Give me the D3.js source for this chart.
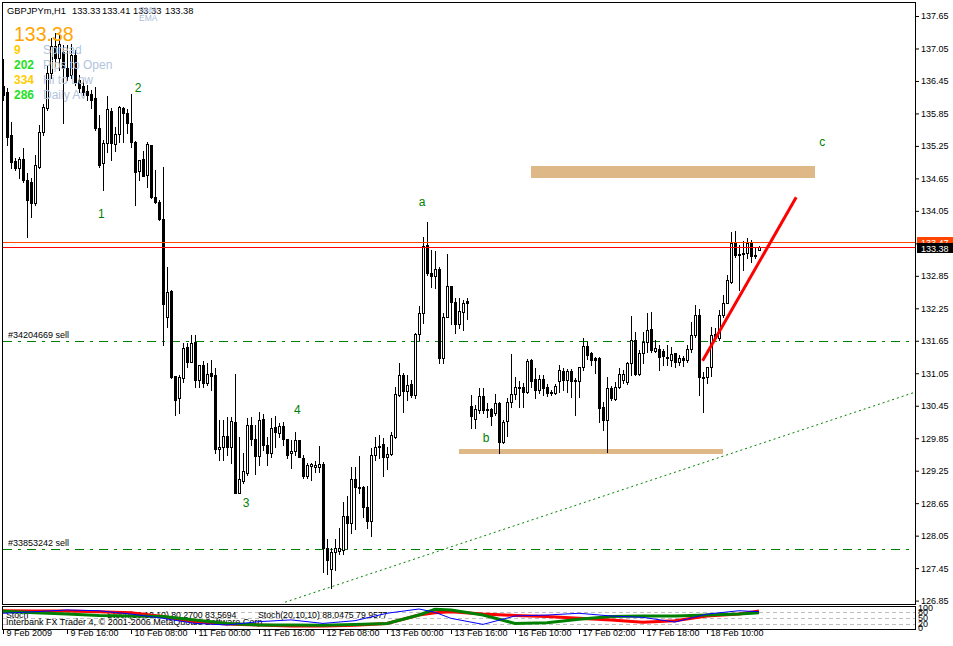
<!DOCTYPE html>
<html>
<head>
<meta charset="utf-8">
<script src="https://cdnjs.cloudflare.com/ajax/libs/d3/7.8.5/d3.min.js"></script>
<style>
body { margin: 0; background: #fff; }
svg text { font-family: "Liberation Sans", Arial, sans-serif; }
</style>
</head>
<body>
<div id="chart"></div>
<script>

// ---- data (GBPJPYm H1, 9 Feb - 18 Feb 2009) ----
var symbol = "GBPJPYm,H1";
var lastQuote = [133.33, 133.41, 133.33, 133.38];

var open = [
  136.36,136.25,135.45,134.97,134.84,135.01,134.62,134.58,134.19,134.86,
  135.51,135.95,136.60,137.10,136.87,136.98,136.69,136.56,136.93,136.47,
  136.36,136.26,136.21,136.13,135.58,134.93,135.30,135.89,135.28,135.47,
  135.95,135.86,135.67,135.32,134.79,135.01,134.71,135.27,134.31,134.21,
  133.90,132.09,132.57,131.00,130.59,130.96,131.53,131.25,131.62,130.92,
  131.20,130.87,131.05,131.01,129.65,129.68,129.89,129.68,130.15,128.83,
  129.06,129.20,130.09,129.83,129.52,130.20,129.72,129.57,130.05,129.94,
  130.07,129.83,129.57,129.61,129.81,129.48,129.15,129.33,129.31,129.31,
  129.37,127.82,127.43,127.74,127.76,127.78,128.41,128.28,129.09,128.94,
  128.94,128.57,128.32,129.54,129.68,129.74,129.50,129.55,129.87,130.65,
  131.01,130.72,130.85,130.65,131.77,132.16,133.42,132.90,132.84,132.97,
  131.33,132.09,132.66,132.36,131.96,132.18,132.38,130.44,130.20,130.37,
  130.63,130.39,130.39,130.31,130.50,129.78,130.16,130.52,130.66,130.79,
  130.79,130.70,131.29,130.94,130.74,130.94,130.79,130.70,130.68,130.90,
  131.09,130.92,131.09,130.92,130.90,131.16,131.55,131.42,131.33,131.33,
  130.42,130.18,130.77,130.57,130.79,130.92,130.89,131.24,131.66,131.03,
  131.42,131.62,131.87,131.46,131.50,131.46,131.35,131.29,131.42,131.25,
  131.33,131.29,131.50,131.75,132.12,130.98,130.98,131.16,131.77,131.70,
  132.12,132.35,132.73,133.45,133.25,133.25,133.27,133.45,133.23,133.33
];
var high = [
  136.86,136.32,135.69,135.03,135.04,135.21,134.75,134.66,135.08,135.64,
  136.02,136.73,137.24,137.34,137.30,137.11,137.11,137.13,137.02,136.56,
  136.47,136.37,136.28,136.34,135.82,135.36,136.17,135.95,135.60,135.99,
  135.97,135.93,136.21,135.34,134.99,135.16,135.32,135.27,134.80,134.25,
  134.86,133.01,132.59,131.00,131.01,131.61,131.61,131.75,131.75,131.20,
  131.27,131.24,131.29,131.14,130.18,130.18,130.24,130.24,131.03,129.87,
  129.57,130.22,130.24,130.09,130.33,130.29,129.87,130.22,130.26,130.13,
  130.15,129.83,129.81,129.96,129.81,129.54,129.39,129.39,129.42,129.70,
  129.41,127.98,127.82,127.98,128.20,128.67,128.78,129.31,129.31,129.52,
  128.96,128.96,129.67,129.87,129.91,129.85,129.68,129.96,130.79,131.24,
  131.05,131.01,130.92,131.79,132.29,133.57,133.84,133.33,133.31,133.01,
  132.16,133.25,132.66,132.44,132.44,132.40,132.44,130.65,130.46,130.77,
  130.77,130.50,130.40,130.66,130.52,130.18,130.59,131.40,130.98,130.90,
  130.87,131.31,131.31,131.14,131.01,131.01,130.85,130.74,130.85,131.20,
  131.14,131.13,131.13,130.96,131.16,131.70,131.62,131.44,131.35,131.35,
  130.52,130.98,130.81,130.89,131.14,131.11,131.25,132.11,131.81,131.48,
  131.81,132.16,132.18,131.66,131.57,131.50,131.57,131.53,131.42,131.38,
  131.37,131.57,131.99,132.31,132.23,131.07,131.16,131.90,131.88,132.22,
  132.49,132.86,133.66,133.68,133.42,133.49,133.55,133.51,133.36,133.41
];
var low = [
  136.10,135.27,134.84,134.80,134.66,134.58,133.57,133.94,134.16,134.84,
  135.45,135.91,136.50,136.73,136.65,135.67,136.47,136.50,136.37,136.25,
  136.19,136.10,135.95,135.54,134.86,134.43,135.14,134.99,135.16,135.32,
  135.32,135.49,135.23,134.16,134.62,134.69,134.49,134.29,134.19,133.88,
  131.57,131.90,130.96,130.28,130.31,130.89,131.16,131.25,130.79,130.79,
  130.79,130.83,130.74,129.57,129.44,129.44,129.54,129.39,128.83,128.83,
  129.02,129.17,129.72,129.18,129.35,129.63,129.35,129.50,129.68,129.87,
  129.72,129.48,129.30,129.54,129.50,129.11,129.11,129.07,129.22,129.22,
  127.37,127.35,127.08,127.41,127.72,127.72,127.83,128.09,128.17,128.83,
  128.39,128.19,128.04,129.44,129.48,129.15,129.28,129.54,129.85,130.63,
  130.33,130.55,130.61,130.59,131.66,131.98,132.86,132.64,132.62,131.24,
  131.24,132.09,131.96,131.79,131.88,131.85,132.05,130.04,130.04,130.31,
  130.31,130.24,130.09,130.28,129.57,129.76,129.89,130.42,130.57,130.42,
  130.42,130.68,130.79,130.59,130.68,130.65,130.63,130.65,130.66,130.70,
  130.74,130.70,130.61,130.28,130.61,131.11,131.31,131.20,131.05,130.15,
  130.00,129.59,130.55,130.55,130.77,130.87,130.85,131.01,131.01,131.01,
  131.24,131.44,131.44,131.44,131.11,131.20,131.20,131.18,131.16,131.20,
  131.18,131.25,131.44,131.72,130.65,130.33,130.87,131.00,131.70,131.66,
  132.09,132.35,132.71,133.20,132.59,132.96,133.18,133.10,133.18,133.33
];
var close = [
  136.19,135.41,134.95,134.84,135.01,134.62,134.25,134.19,134.90,135.51,
  135.97,136.60,137.10,136.87,137.13,136.69,136.54,136.93,136.43,136.32,
  136.25,136.19,136.10,135.58,134.90,135.30,135.93,135.30,135.47,135.97,
  135.86,135.67,135.32,134.77,134.99,134.69,135.28,134.31,134.21,133.90,
  132.33,132.55,130.98,130.55,130.98,131.51,131.25,131.61,130.92,131.20,
  130.87,131.03,131.00,129.65,129.68,129.89,129.68,130.16,128.83,129.09,
  129.24,130.09,129.83,129.52,130.18,129.72,129.57,130.04,129.96,130.07,
  129.83,129.54,129.61,129.81,129.50,129.15,129.35,129.37,129.35,129.37,
  127.82,127.60,127.74,127.82,127.82,128.41,128.28,129.09,128.94,128.93,
  128.57,128.32,129.54,129.68,129.70,129.50,129.55,129.91,130.66,131.01,
  130.72,130.83,130.65,131.77,132.16,133.40,132.90,132.84,132.97,131.33,
  132.09,132.66,132.36,131.96,132.20,132.35,132.35,130.26,130.39,130.63,
  130.37,130.37,130.26,130.50,129.78,130.15,130.52,130.66,130.79,130.77,
  130.70,131.27,130.90,130.74,130.94,130.77,130.68,130.68,130.81,131.11,
  130.92,131.09,130.90,130.90,131.16,131.55,131.38,131.29,131.29,130.40,
  130.18,130.77,130.59,130.79,131.03,131.03,131.24,131.66,131.03,131.42,
  131.62,131.85,131.48,131.51,131.35,131.37,131.33,131.40,131.25,131.33,
  131.29,131.50,131.75,132.12,130.98,130.96,131.16,131.75,131.70,132.12,
  132.35,132.77,133.45,133.23,133.23,133.27,133.45,133.21,133.21,133.38
];

var timeTicks = [0, 16, 32, 48, 64, 80, 96, 112, 128, 144, 160, 176];
var timeLabels = ["9 Feb 2009", "9 Feb 16:00", "10 Feb 08:00", "11 Feb 00:00",
  "11 Feb 16:00", "12 Feb 08:00", "13 Feb 00:00", "13 Feb 16:00",
  "16 Feb 10:00", "17 Feb 02:00", "17 Feb 18:00", "18 Feb 10:00"];
var priceTicks = [137.65, 137.05, 136.45, 135.85, 135.25, 134.65, 134.05,
  133.45, 132.85, 132.25, 131.65, 131.05, 130.45, 129.85, 129.25, 128.65,
  128.05, 127.45, 126.85];

var askPrice = 133.47;
var bidPrice = 133.38;

// pending orders
var orderPrices = [131.65, 127.80];
var orderNames = ["#34204669 sell", "#33853242 sell"];

// tan zones (bar index from/to, price low/high)
var zoneFrom = [132, 114];
var zoneTo = [203, 180];
var zoneLow = [134.66, 129.55];
var zoneHigh = [134.88, 129.65];

// trend lines [bar, price]
var supportLine = [[70.5, 126.82], [228, 130.70]];
var redLine = [[174.9, 131.28], [198.3, 134.30]];

// wave counts
var waveNames = ["1", "2", "3", "4", "a", "b", "c"];
var waveBars = [24.6, 33.8, 60.8, 73.6, 104.8, 120.8, 204.8];
var wavePrices = [133.99, 136.32, 128.65, 130.37, 134.21, 129.85, 135.32];

// info block, top left
var infoValues = ["9", "202", "334", "286"];
var infoNames = ["Spread", "Pips to Open", "Hi to Low", "Daily Av"];
var infoColors = ["#ffcc00", "#22e022", "#ffcc00", "#22e022"];

// stochastic window
var stochBars = [0, 8, 16, 24, 32, 40, 48, 56, 64, 72, 80, 88, 96, 104, 108, 112,
  120, 128, 136, 144, 152, 160, 168, 176, 184, 189];
var stochRed = [88, 87, 87, 83, 78, 58, 32, 20, 15, 10, 10, 13, 23, 66, 78, 83,
  71, 64, 58, 49, 41, 29, 37, 61, 71, 87];
var stochGreen = [85, 78, 71, 64, 61, 58, 41, 23, 15, 15, 13, 17, 23, 66, 95, 92,
  66, 23, 27, 44, 58, 61, 61, 66, 71, 78];
var stochBlue = [75, 83, 92, 88, 71, 49, 23, 15, 32, 41, 23, 37, 75, 97, 80, 49,
  18, 61, 66, 75, 61, 54, 30, 71, 88, 83];
var stochLevels = [100, 80, 50, 20, 0];
var stochTitles = ["Stoch", "Stoch(10,10,10) 80.2700 83.5694", "Stoch(20,10,10) 88.0475 79.9577"];
var stochTitleX = [6, 107, 258];

// ---- layout ----
var width = 953;
var height = 646;
var right = 915;
var mainBottom = 604;
var subTop = 606;
var subBottom = 629;

var svg = d3.select("#chart").append("svg")
  .attr("width", width)
  .attr("height", height);

var x = d3.scaleLinear().domain([0, 1]).range([3, 7]);
var y = d3.scaleLinear().domain([126.85, 137.65]).range([600.6, 16]);
var ys = d3.scaleLinear().domain([0, 100]).range([627.9, 608.4]);

svg.append("rect").attr("width", width).attr("height", height).attr("fill", "#fff");

svg.append("clipPath").attr("id", "clipMain")
  .append("rect").attr("x", 3).attr("y", 3).attr("width", right - 3).attr("height", mainBottom - 3);
svg.append("clipPath").attr("id", "clipSub")
  .append("rect").attr("x", 3).attr("y", subTop + 1).attr("width", right - 3).attr("height", subBottom - subTop - 1);

var g = svg.append("g").attr("clip-path", "url(#clipMain)");

drawZones();
drawLevels();
drawCandles();
drawLines();
drawLabels();
drawAxes();
drawStoch();
drawInfo();

function drawZones() {
  g.selectAll(".zone")
    .data(zoneFrom)
    .enter()
    .append("rect")
    .attr("class", "zone")
    .attr("x", function(d) { return x(d); })
    .attr("width", function(d, i) { return x(zoneTo[i]) - x(d); })
    .attr("y", function(d, i) { return Math.round(y(zoneHigh[i])); })
    .attr("height", function(d, i) { return Math.round(y(zoneLow[i])) - Math.round(y(zoneHigh[i])); })
    .attr("fill", "#deb887");
}

function drawLevels() {
  // order lines
  g.selectAll(".order")
    .data(orderPrices)
    .enter()
    .append("line")
    .attr("x1", 3).attr("x2", right)
    .attr("y1", function(d) { return Math.round(y(d)) + 0.5; })
    .attr("y2", function(d) { return Math.round(y(d)) + 0.5; })
    .attr("stroke", "#008000")
    .attr("stroke-dasharray", "9,6,3,6");

  g.selectAll(".orderName")
    .data(orderNames)
    .enter()
    .append("text")
    .attr("x", 8)
    .attr("y", function(d, i) { return Math.round(y(orderPrices[i])) - 3; })
    .attr("font-size", "9px")
    .attr("fill", "#000")
    .text(function(d) { return d; });
}

function drawCandles() {
  var bars = open.map(function(o, i) {
    return {i: i, o: o, h: high[i], l: low[i], c: close[i]};
  });

  var cg = g.selectAll(".candle")
    .data(bars)
    .enter()
    .append("g")
    .attr("class", "candle");

  cg.append("rect")
    .attr("x", function(d) { return Math.round(x(d.i)); })
    .attr("y", function(d) { return Math.round(y(d.h)); })
    .attr("width", 1)
    .attr("height", function(d) { return Math.round(y(d.l)) - Math.round(y(d.h)) + 1; })
    .attr("fill", "#000");

  cg.append("rect")
    .attr("x", function(d) { return Math.round(x(d.i)) - 1; })
    .attr("y", function(d) { return Math.round(y(Math.max(d.o, d.c))); })
    .attr("width", 3)
    .attr("height", function(d) {
      return Math.round(y(Math.min(d.o, d.c))) - Math.round(y(Math.max(d.o, d.c))) + 1;
    })
    .attr("fill", "#000");

  // bull candles are hollow
  cg.filter(function(d) {
      return d.c > d.o && Math.round(y(d.o)) - Math.round(y(d.c)) >= 2;
    })
    .append("rect")
    .attr("x", function(d) { return Math.round(x(d.i)); })
    .attr("y", function(d) { return Math.round(y(d.c)) + 1; })
    .attr("width", 1)
    .attr("height", function(d) { return Math.round(y(d.o)) - Math.round(y(d.c)) - 1; })
    .attr("fill", "#fff");
}

function drawLines() {
  var line = d3.line()
    .x(function(d) { return x(d[0]); })
    .y(function(d) { return y(d[1]); });

  // ask / bid
  g.append("line")
    .attr("x1", 3).attr("x2", right)
    .attr("y1", Math.round(y(askPrice)) + 0.5).attr("y2", Math.round(y(askPrice)) + 0.5)
    .attr("stroke", "#ff4500");
  g.append("line")
    .attr("x1", 3).attr("x2", right)
    .attr("y1", Math.round(y(bidPrice)) + 0.5).attr("y2", Math.round(y(bidPrice)) + 0.5)
    .attr("stroke", "#ff0000");

  g.append("path")
    .attr("d", line(supportLine))
    .attr("fill", "none")
    .attr("stroke", "#008000")
    .attr("stroke-dasharray", "2,3");

  g.append("path")
    .attr("d", line(redLine))
    .attr("fill", "none")
    .attr("stroke", "#ff0000")
    .attr("stroke-width", 3);
}

function drawLabels() {
  g.selectAll(".wave")
    .data(waveNames)
    .enter()
    .append("text")
    .attr("x", function(d, i) { return x(waveBars[i]); })
    .attr("y", function(d, i) { return y(wavePrices[i]); })
    .attr("dy", "0.35em")
    .attr("text-anchor", "middle")
    .attr("font-size", "12px")
    .attr("fill", "#008000")
    .text(function(d) { return d; });
}

function drawAxes() {
  // frames
  svg.append("rect")
    .attr("x", 2.5).attr("y", 2.5)
    .attr("width", right - 2).attr("height", mainBottom - 2)
    .attr("fill", "none").attr("stroke", "#000");
  svg.append("rect")
    .attr("x", 2.5).attr("y", subTop + 0.5)
    .attr("width", right - 2).attr("height", subBottom - subTop)
    .attr("fill", "none").attr("stroke", "#000");

  var yAxis = d3.axisRight(y)
    .tickValues(priceTicks)
    .tickSize(4)
    .tickFormat(d3.format(".2f"));

  var ya = svg.append("g")
    .attr("transform", "translate(" + right + ",0)")
    .call(yAxis);
  ya.select(".domain").remove();
  ya.selectAll("text").attr("x", 6).attr("font-size", "9px").attr("font-family", null);

  // ask / bid tags
  var tags = [[askPrice, "#ff4500", -5], [bidPrice, "#000", -4]];
  tags.forEach(function(t) {
    var cy = Math.round(y(t[0]));
    svg.append("rect")
      .attr("x", right + 2).attr("y", cy + t[2])
      .attr("width", width - right - 2).attr("height", 10)
      .attr("fill", t[1]);
    svg.append("text")
      .attr("x", right + 6).attr("y", cy + t[2] + 8.5)
      .attr("font-size", "9px")
      .attr("fill", "#fff")
      .text(d3.format(".2f")(t[0]));
  });

  var xAxis = d3.axisBottom(x)
    .tickValues(timeTicks)
    .tickSize(5)
    .tickFormat(function(d, i) { return timeLabels[i]; });

  var xa = svg.append("g")
    .attr("transform", "translate(0," + subBottom + ")")
    .call(xAxis);
  xa.select(".domain").remove();
  xa.selectAll("text")
    .attr("x", 3).attr("y", 1)
    .attr("text-anchor", "start")
    .attr("font-size", "9px")
    .attr("font-family", null);
}

function drawStoch() {
  var sg = svg.append("g").attr("clip-path", "url(#clipSub)");

  sg.selectAll(".lvl")
    .data([80, 50, 20])
    .enter()
    .append("line")
    .attr("x1", 3).attr("x2", right)
    .attr("y1", function(d) { return Math.round(ys(d)) + 0.5; })
    .attr("y2", function(d) { return Math.round(ys(d)) + 0.5; })
    .attr("stroke", "#c0c0c0")
    .attr("stroke-dasharray", "4,3");

  sg.selectAll(".stTitle")
    .data(stochTitles)
    .enter()
    .append("text")
    .attr("x", function(d, i) { return stochTitleX[i]; })
    .attr("y", 618)
    .attr("font-size", "8.7px")
    .text(function(d) { return d; });
  sg.append("text")
    .attr("x", 6).attr("y", 625)
    .attr("font-size", "9px")
    .text("Interbank FX Trader 4, \u00a9 2001-2006 MetaQuotes Software Corp.");

  var series = [[stochRed, "#ff0000", 3], [stochGreen, "#008000", 3], [stochBlue, "#0000ff", 1]];
  series.forEach(function(s) {
    var line = d3.line()
      .x(function(d, i) { return x(stochBars[i]); })
      .y(function(d) { return ys(d); });
    sg.append("path")
      .attr("d", line(s[0]))
      .attr("fill", "none")
      .attr("stroke", s[1])
      .attr("stroke-width", s[2]);
  });

  svg.selectAll(".lvlLabel")
    .data(stochLevels)
    .enter()
    .append("text")
    .attr("x", right + 3)
    .attr("y", function(d) { return ys(d) + 3; })
    .attr("font-size", "9px")
    .text(function(d) { return d; });
}

function drawInfo() {
  var head = [symbol].concat(lastQuote.map(d3.format(".2f")));
  var hx = [7, 72, 102, 133, 165];
  svg.selectAll(".head")
    .data(head)
    .enter()
    .append("text")
    .attr("x", function(d, i) { return hx[i]; })
    .attr("y", 14)
    .attr("font-size", "9.3px")
    .text(function(d) { return d; });

  svg.append("text").attr("x", 139).attr("y", 13)
    .attr("font-size", "8.5px").attr("fill", "#a9bcd8").text("SMA");
  svg.append("text").attr("x", 139).attr("y", 21)
    .attr("font-size", "8.5px").attr("fill", "#a9bcd8").text("EMA");

  svg.append("text")
    .attr("x", 14).attr("y", 41)
    .attr("font-size", "19.5px")
    .attr("fill", "#ffa500")
    .text(d3.format(".2f")(bidPrice));

  svg.selectAll(".infoVal")
    .data(infoValues)
    .enter()
    .append("text")
    .attr("x", 14)
    .attr("y", function(d, i) { return 54 + i * 15; })
    .attr("font-size", "12px")
    .attr("font-weight", "bold")
    .attr("fill", function(d, i) { return infoColors[i]; })
    .text(function(d) { return d; });

  svg.selectAll(".infoName")
    .data(infoNames)
    .enter()
    .append("text")
    .attr("x", 43)
    .attr("y", function(d, i) { return 54 + i * 15; })
    .attr("font-size", "12px")
    .attr("fill", "#b0c4de")
    .text(function(d) { return d; });
}

</script>
</body>
</html>
